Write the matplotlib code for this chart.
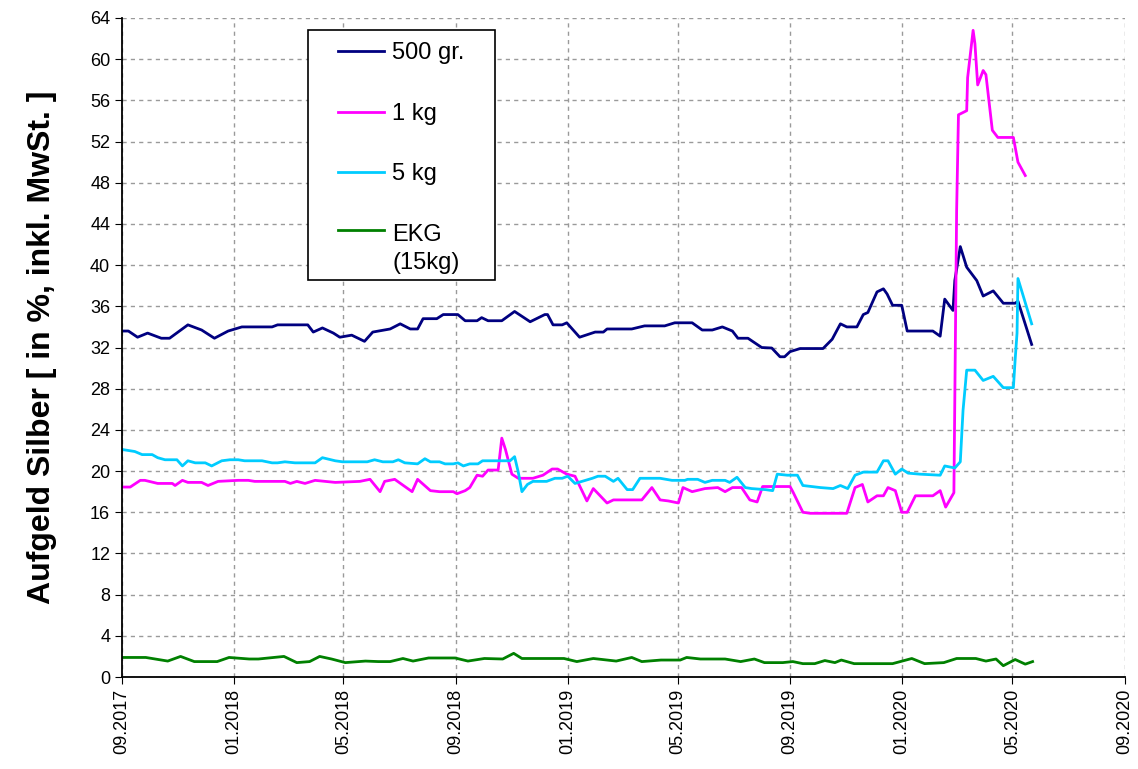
import matplotlib
matplotlib.use("Agg")
import numpy as np
import pandas as pd
import matplotlib.pyplot as plt
import matplotlib.dates as mdates
from matplotlib.patches import Rectangle

plt.rcParams['font.family'] = ['Liberation Sans', 'DejaVu Sans']

start = pd.Timestamp("2017-09-01")

# Tage seit 01.09.2017 / Aufgeld in %
navy_day = [0, 7, 17, 28, 43, 52, 72, 87, 101, 116, 131, 164, 170, 189, 203, 209, 219, 231,
            238, 251, 265, 274, 293, 304, 315, 323, 329, 344, 351, 367, 375, 388, 393, 400,
            415, 429, 446, 462, 465, 471, 481, 486, 500, 517, 526, 530, 557, 571, 593, 604,
            623, 634, 645, 656, 667, 673, 684, 699, 710, 719, 724, 730, 741, 766, 776, 785,
            792, 803, 810, 815, 825, 832, 836, 842, 852, 858, 886, 894, 899, 908, 910, 916,
            923, 934, 941, 952, 963, 976, 979, 994]
navy_val = [33.6, 33.6, 33.0, 33.4, 32.9, 32.9, 34.2, 33.7, 32.9, 33.6, 34.0, 34.0, 34.2, 34.2,
            34.2, 33.5, 33.9, 33.4, 33.0, 33.2, 32.6, 33.5, 33.8, 34.3, 33.8, 33.8, 34.8, 34.8,
            35.2, 35.2, 34.6, 34.6, 34.9, 34.6, 34.6, 35.5, 34.5, 35.2, 35.2, 34.2, 34.2, 34.4,
            33.0, 33.5, 33.5, 33.8, 33.8, 34.1, 34.1, 34.4, 34.4, 33.7, 33.7, 34.0, 33.6, 32.9,
            32.9, 32.0, 31.95, 31.1, 31.1, 31.6, 31.9, 31.9, 32.8, 34.3, 34.0, 34.0, 35.2, 35.4,
            37.4, 37.7, 37.2, 36.1, 36.1, 33.6, 33.6, 33.1, 36.7, 35.6, 38.5, 41.8, 39.8, 38.5,
            37.0, 37.5, 36.3, 36.3, 36.5, 32.3]

mag_day = [0, 9, 20, 25, 39, 55, 58, 66, 72, 87, 94, 105, 127, 138, 145, 178, 184, 191, 200,
           211, 233, 260, 271, 282, 287, 298, 317, 323, 337, 347, 362, 366, 375, 380, 388, 394,
           400, 411, 415, 419, 426, 433, 449, 460, 470, 476, 486, 495, 508, 515, 530, 537, 568,
           579, 588, 597, 608, 613, 623, 637, 651, 659, 667, 677, 686, 694, 700, 730, 733, 744,
           752, 792, 801, 809, 815, 825, 832, 837, 845, 852, 858, 867, 886, 894, 900, 909, 910,
           912, 914, 923, 924, 930, 932, 935, 941, 944, 951, 957, 974, 979, 987]
mag_val = [18.45, 18.45, 19.1, 19.1, 18.8, 18.8, 18.6, 19.1, 18.9, 18.9, 18.6, 19.0, 19.1, 19.1,
           19.0, 19.0, 18.8, 19.0, 18.8, 19.1, 18.9, 19.0, 19.2, 18.0, 19.0, 19.2, 18.0, 19.2,
           18.1, 18.0, 18.0, 17.8, 18.1, 18.4, 19.6, 19.5, 20.1, 20.1, 23.2, 22.1, 19.7, 19.3,
           19.3, 19.6, 20.2, 20.2, 19.7, 19.5, 17.1, 18.3, 16.9, 17.2, 17.2, 18.4, 17.2, 17.1,
           16.9, 18.4, 18.0, 18.3, 18.4, 18.0, 18.4, 18.4, 17.2, 17.0, 18.5, 18.5, 18.0, 16.0,
           15.9, 15.9, 18.4, 18.7, 17.0, 17.6, 17.6, 18.4, 18.1, 16.0, 16.0, 17.6, 17.6, 18.1,
           16.5, 17.9, 26.9, 45.3, 54.6, 55.0, 58.2, 62.8, 61.5, 57.5, 58.9, 58.5, 53.1, 52.4,
           52.4, 50.0, 48.7]

cyan_day = [0, 14, 22, 33, 39, 47, 60, 66, 72, 80, 91, 98, 109, 118, 127, 134, 153, 164, 170,
            178, 189, 211, 219, 233, 241, 268, 276, 285, 296, 302, 309, 323, 331, 337, 347, 353,
            362, 367, 373, 380, 389, 394, 424, 429, 433, 437, 443, 449, 464, 473, 481, 487, 495,
            514, 520, 528, 537, 542, 552, 558, 566, 588, 601, 615, 618, 629, 637, 645, 659, 664,
            672, 681, 688, 703, 711, 716, 727, 738, 744, 763, 777, 785, 793, 801, 810, 825, 832,
            837, 845, 852, 859, 872, 894, 899, 910, 916, 919, 923, 932, 941, 952, 963, 974, 976,
            978, 979, 994]
cyan_val = [22.1, 21.9, 21.6, 21.6, 21.3, 21.1, 21.1, 20.5, 21.0, 20.8, 20.8, 20.5, 21.0, 21.1,
            21.1, 21.0, 21.0, 20.8, 20.8, 20.9, 20.8, 20.8, 21.3, 21.0, 20.9, 20.9, 21.1, 20.9,
            20.9, 21.1, 20.8, 20.7, 21.2, 20.9, 20.9, 20.7, 20.7, 20.8, 20.5, 20.7, 20.7, 21.0,
            21.0, 21.4, 19.9, 18.0, 18.7, 19.0, 19.0, 19.3, 19.3, 19.5, 18.8, 19.3, 19.5, 19.5,
            19.0, 19.3, 18.2, 18.2, 19.3, 19.3, 19.1, 19.1, 19.2, 19.2, 18.9, 19.1, 19.1, 18.9,
            19.4, 18.4, 18.3, 18.2, 18.1, 19.7, 19.6, 19.6, 18.6, 18.4, 18.3, 18.6, 18.3, 19.6,
            19.9, 19.9, 21.0, 21.0, 19.7, 20.2, 19.8, 19.7, 19.6, 20.5, 20.3, 20.9, 25.9, 29.8,
            29.8, 28.8, 29.2, 28.1, 28.1, 30.9, 33.4, 38.7, 34.3]

ekg_day = [0, 26, 50, 64, 79, 104, 117, 139, 149, 177, 191, 205, 216, 229, 244, 266, 280, 293,
           307, 318, 335, 364, 378, 396, 416, 428, 437, 462, 483, 497, 515, 540, 557, 568, 589,
           610, 617, 632, 659, 676, 691, 702, 722, 733, 744, 757, 768, 779, 786, 800, 828, 842,
           863, 877, 898, 912, 933, 944, 955, 963, 976, 987, 995]
ekg_val = [1.9, 1.9, 1.55, 2.0, 1.5, 1.5, 1.9, 1.75, 1.75, 2.0, 1.4, 1.5, 2.0, 1.75, 1.4, 1.55,
           1.5, 1.5, 1.8, 1.55, 1.85, 1.85, 1.55, 1.8, 1.75, 2.3, 1.8, 1.8, 1.8, 1.5, 1.8, 1.55,
           1.9, 1.5, 1.65, 1.65, 1.9, 1.75, 1.75, 1.5, 1.75, 1.4, 1.4, 1.5, 1.3, 1.3, 1.6, 1.4,
           1.65, 1.3, 1.3, 1.3, 1.8, 1.3, 1.4, 1.8, 1.8, 1.55, 1.75, 1.1, 1.7, 1.25, 1.5]

series = [
    ("500 gr.", navy_day, navy_val, "#000080"),
    ("1 kg", mag_day, mag_val, "#FF00FF"),
    ("5 kg", cyan_day, cyan_val, "#00CCFF"),
    ("EKG\n(15kg)", ekg_day, ekg_val, "#008000"),
]

fig = plt.figure(figsize=(11.38, 7.69), dpi=100)
ax = fig.add_axes([0.1072, 0.1196, 0.8814, 0.857])

for label, days, vals, col in series:
    dates = start + pd.to_timedelta(days, unit="D")
    ax.plot(dates, vals, color=col, lw=2, label=label)

ax.set_ylim(0, 64)
ax.set_yticks(np.arange(0, 65, 4))
ax.set_xlim(pd.Timestamp("2017-09-01"), pd.Timestamp("2020-09-01"))
ax.xaxis.set_major_locator(mdates.MonthLocator(bymonth=[1, 5, 9]))
ax.xaxis.set_major_formatter(mdates.DateFormatter("%m.%Y"))
plt.setp(ax.get_xticklabels(), rotation=90)
ax.tick_params(labelsize=13, length=5, color="black")

ax.grid(True, color="#9a9a9a", linestyle=(0, (3, 3)), lw=1)
ax.set_axisbelow(True)
for s in ["top", "right"]:
    ax.spines[s].set_visible(False)
ax.spines["left"].set_linewidth(1.3)
ax.spines["bottom"].set_linewidth(1.3)

ax.set_ylabel("Aufgeld Silber [ in %, inkl. MwSt. ]", fontsize=23, fontweight="bold", labelpad=24)

# Legendenrahmen wie im Original (feste Box)
ax.add_patch(Rectangle((0.1854, 0.6024), 0.1865, 0.3794, transform=ax.transAxes,
                       facecolor="white", edgecolor="black", lw=1.2, zorder=5))
leg = ax.legend(loc="upper left", bbox_to_anchor=(0.2154, 0.963), fontsize=17,
                labelspacing=1.63, handlelength=1.95, handletextpad=0.35, frameon=False,
                borderpad=0, borderaxespad=0)
leg.set_zorder(6)
leg.get_texts()[3].set_linespacing(1.35)
# Linie bei EKG auf Höhe der ersten Textzeile
ekg_line = leg.get_lines()[3]
ekg_line.set_ydata(np.asarray(ekg_line.get_ydata()) + 13.5)

fig.savefig("out.png", dpi=100)
